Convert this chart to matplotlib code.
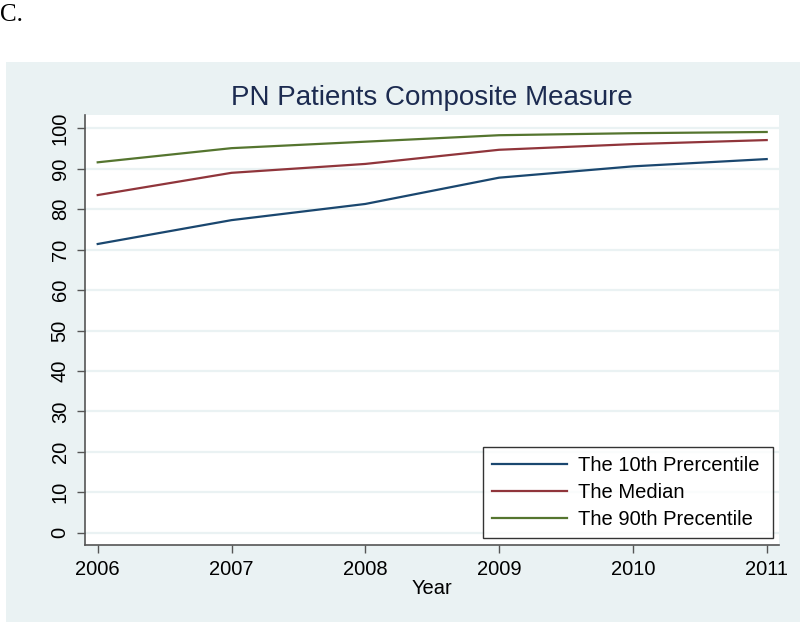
import matplotlib
matplotlib.use("Agg")
import matplotlib.pyplot as plt
from matplotlib.patches import Rectangle

years = [2006, 2007, 2008, 2009, 2010, 2011]
p10 = [71.4, 77.3, 81.3, 87.8, 90.6, 92.4]
median = [83.5, 89.0, 91.2, 94.7, 96.1, 97.1]
p90 = [91.6, 95.1, 96.7, 98.3, 98.8, 99.1]
series_labels = ["The 10th Prercentile", "The Median", "The 90th Precentile"]
yticks = [0, 10, 20, 30, 40, 50, 60, 70, 80, 90, 100]

plt.rcParams['font.family'] = ['Liberation Sans', 'DejaVu Sans']

W, H = 800, 622
fig = plt.figure(figsize=(W / 100, H / 100), dpi=100, facecolor='white')

bg = "#eaf2f3"
fig.patches.append(Rectangle((6 / W, 0), (W - 6) / W, (H - 62) / H,
                             transform=fig.transFigure, facecolor=bg,
                             edgecolor='none', zorder=-10))

fig.text(0 / W, 1 - 15 / H, "C.", family=['Liberation Serif', 'DejaVu Serif'],
         fontsize=18, va='center', ha='left', color='black')

left, right, top, bottom = 85, 779, 115, 545
ax = fig.add_axes([left / W, 1 - bottom / H, (right - left) / W, (bottom - top) / H])
ax.set_zorder(1)
ax.set_facecolor('white')

colors = ["#1a476f", "#90353b", "#55752f"]
for vals, lab, c in zip([p10, median, p90], series_labels, colors):
    ax.plot(years, vals, color=c, lw=1.6, label=lab, zorder=3)

ax.set_xlim(2005.905, 2011.092)
ax.set_ylim(-3.04, 103.3)
ax.set_yticks(yticks)
ax.set_xticks(years)
ax.set_yticklabels([str(t) for t in yticks], rotation=90, va='center')
ax.grid(axis='y', color=bg, lw=1.6, zorder=1)
ax.set_axisbelow(True)

for s in ['top', 'right']:
    ax.spines[s].set_visible(False)
for s in ['left', 'bottom']:
    ax.spines[s].set_color('#555555')
    ax.spines[s].set_linewidth(1.2)

ax.tick_params(axis='both', direction='out', length=6, width=1.0, color='#555555',
               labelsize=14.5, labelcolor='black', pad=5)

ax.set_xlabel("Year", fontsize=14.5, labelpad=0, color='black')
ax.set_title("PN Patients Composite Measure", fontsize=20, color="#1c2b50", pad=7)

aw, ah = right - left, bottom - top
x0 = (483 - left) / aw
y0 = (bottom - 538) / ah
w = (773 - 483) / aw
h = (538 - 448) / ah
leg = ax.legend(loc='lower left', bbox_to_anchor=(x0, y0, w, h), mode='expand',
                borderaxespad=0, fontsize=14.5, frameon=True, fancybox=False,
                handlelength=3.7, handletextpad=0.55, labelspacing=0.4,
                borderpad=0.45)
leg.get_frame().set_edgecolor('black')
leg.get_frame().set_linewidth(1.0)

fig.savefig("out.png", dpi=100, facecolor='white')
